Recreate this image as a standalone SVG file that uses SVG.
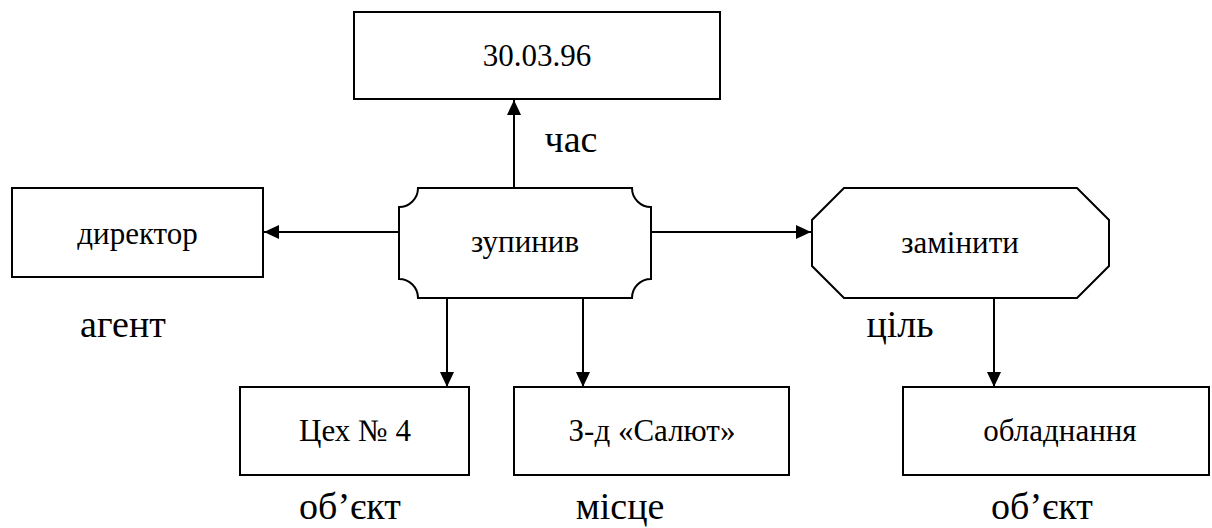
<svg xmlns="http://www.w3.org/2000/svg" width="1212" height="528" viewBox="0 0 1212 528">
<style>
.box{fill:#fff;stroke:#000;stroke-width:2}
.t{font-family:"Liberation Serif","Times New Roman",serif;font-size:31px;fill:#000;text-anchor:middle}
.lbl{font-family:"Liberation Serif","Times New Roman",serif;font-size:38px;fill:#000;text-anchor:middle}
.edge{stroke:#000;stroke-width:2;fill:none;marker-end:url(#arr)}
</style>
<defs>
<marker id="arr" markerUnits="userSpaceOnUse" markerWidth="15" markerHeight="14" refX="15" refY="7" orient="auto">
<path d="M0,0 L15,7 L0,14 Z" fill="#000"/>
</marker>
</defs>
<g id="connectors">
<line class="edge" x1="514" y1="188" x2="514" y2="100"/>
<line class="edge" x1="399" y1="232" x2="264" y2="232"/>
<line class="edge" x1="651" y1="232" x2="811" y2="232"/>
<line class="edge" x1="447" y1="298" x2="447" y2="387"/>
<line class="edge" x1="583" y1="298" x2="583" y2="387"/>
<line class="edge" x1="994" y1="298" x2="994" y2="387"/>
</g>
<g id="n-date">
<rect class="box" x="354" y="12" width="366" height="87"/>
<text class="t" x="537" y="66">30.03.96</text>
</g>
<g id="n-stopped">
<path class="box" d="M418,188 H632 A19,19 0 0 0 651,207 V279 A19,19 0 0 0 632,298 H418 A19,19 0 0 0 399,279 V207 A19,19 0 0 0 418,188 Z"/>
<text class="t" x="525" y="252">зупинив</text>
</g>
<g id="n-director">
<rect class="box" x="12" y="188" width="251" height="89"/>
<text class="t" x="137.5" y="244">директор</text>
</g>
<g id="n-replace">
<path class="box" d="M844,188 H1077 L1109,220 V266 L1077,298 H844 L812,266 V220 Z"/>
<text class="t" x="960" y="253">замінити</text>
</g>
<g id="n-shop">
<rect class="box" x="240" y="387" width="229" height="88"/>
<text class="t" x="355" y="441">Цех № 4</text>
</g>
<g id="n-plant">
<rect class="box" x="514" y="387" width="275" height="88"/>
<text class="t" x="652" y="441">З-д «Салют»</text>
</g>
<g id="n-equipment">
<rect class="box" x="903" y="387" width="306" height="88"/>
<text class="t" x="1060" y="441">обладнання</text>
</g>
<g id="labels">
<text class="lbl" x="571" y="152">час</text>
<text class="lbl" x="123" y="337">агент</text>
<text class="lbl" x="900" y="337">ціль</text>
<text class="lbl" x="350" y="519">об’єкт</text>
<text class="lbl" x="620" y="519">місце</text>
<text class="lbl" x="1042" y="519">об’єкт</text>
</g>
</svg>
